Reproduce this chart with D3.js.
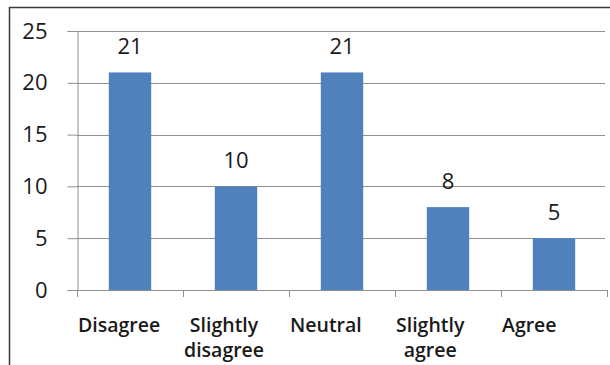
<!DOCTYPE html>
<html>
<head>
<meta charset="utf-8">
<script src="https://cdn.jsdelivr.net/npm/d3@7"></script>
<style>
  html, body { margin: 0; padding: 0; background: #fff; }
  svg { display: block; }
</style>
</head>
<body>
<svg id="chart" width="610" height="365"></svg>
<script>
// Survey responses per answer option
const categories = ["Disagree", "Slightly disagree", "Neutral", "Slightly agree", "Agree"];
const categoryLines = [["Disagree"], ["Slightly", "disagree"], ["Neutral"], ["Slightly", "agree"], ["Agree"]];
const counts = [21, 10, 21, 8, 5];
const yTicks = [0, 5, 10, 15, 20, 25];

const W = 610, H = 365;
const plot = { left: 77, right: 607, top: 31, bottom: 290 };
const barColor = "#4F81BD";
const gridColor = "#8f8f8f";
const textColor = "#1a1a1a";
const numFont = "'Open Sans', sans-serif";

const svg = d3.select("#chart");

// Outer frame (top and left edges visible)
svg.append("path")
  .attr("d", `M9.5,${H} V7.5 H${W}`)
  .attr("fill", "none")
  .attr("stroke", "#3a3a3a")
  .attr("stroke-width", 1.5);

const x = d3.scaleBand()
  .domain(categories)
  .range([plot.left, plot.right])
  .paddingInner(0.6)
  .paddingOuter(0.3);

const xEdge = d3.scalePoint()
  .domain(d3.range(categories.length + 1))
  .range([plot.left, plot.right]);

const y = d3.scaleLinear().domain([0, 25]).range([plot.bottom, plot.top]);

// Horizontal gridlines
svg.append("g")
  .selectAll("line")
  .data(yTicks.filter(t => t > 0))
  .join("line")
  .attr("x1", plot.left).attr("x2", plot.right - 2)
  .attr("y1", d => Math.round(y(d)) + 0.5).attr("y2", d => Math.round(y(d)) + 0.5)
  .attr("stroke", gridColor).attr("stroke-width", 1);

// Y axis
const yAxis = d3.axisLeft(y).tickValues(yTicks).tickSize(10).tickPadding(20);
const gy = svg.append("g")
  .attr("transform", `translate(${plot.left + 0.5},0)`)
  .call(yAxis);
gy.select(".domain").attr("stroke", gridColor);
gy.selectAll(".tick line").attr("stroke", gridColor);
gy.selectAll(".tick text")
  .attr("fill", textColor)
  .style("font-family", numFont)
  .style("font-size", "22px");

// X axis line with tick marks at category edges
svg.append("line")
  .attr("x1", plot.left).attr("x2", plot.right)
  .attr("y1", plot.bottom + 0.5).attr("y2", plot.bottom + 0.5)
  .attr("stroke", gridColor);
svg.append("g")
  .selectAll("line")
  .data(d3.range(categories.length + 1))
  .join("line")
  .attr("x1", d => Math.round(xEdge(d)) + 0.5).attr("x2", d => Math.round(xEdge(d)) + 0.5)
  .attr("y1", plot.bottom).attr("y2", plot.bottom + 7)
  .attr("stroke", gridColor);

// Bars
svg.append("g")
  .selectAll("rect")
  .data(counts)
  .join("rect")
  .attr("x", (d, i) => x(categories[i]))
  .attr("width", x.bandwidth())
  .attr("y", d => y(d))
  .attr("height", d => y(0) - y(d))
  .attr("fill", barColor);

// Value labels
svg.append("g")
  .selectAll("text")
  .data(counts)
  .join("text")
  .attr("x", (d, i) => x(categories[i]) + x.bandwidth() / 2)
  .attr("y", d => y(d) - 18)
  .attr("text-anchor", "middle")
  .attr("fill", textColor)
  .style("font-family", numFont)
  .style("font-size", "22px")
  .text(d => d);

// Category labels: each block starts at its category's left edge, lines centred within the block
const labels = svg.append("g")
  .selectAll("text")
  .data(categoryLines)
  .join("text")
  .attr("y", 332)
  .attr("text-anchor", "middle")
  .attr("fill", textColor)
  .style("font-family", "'Open Sans', sans-serif")
  .style("font-weight", "600")
  .style("font-size", "19.5px");

labels.each(function(lines, i) {
  const t = d3.select(this);
  const spans = t.selectAll("tspan")
    .data(lines)
    .join("tspan")
    .attr("x", 0)
    .attr("dy", (d, j) => j === 0 ? 0 : 25)
    .text(d => d);
  let maxW = 0;
  spans.each(function() { maxW = Math.max(maxW, this.getComputedTextLength()); });
  t.attr("transform", `translate(${xEdge(i) + 1 + maxW / 2},0)`);
});
</script>
</body>
</html>
